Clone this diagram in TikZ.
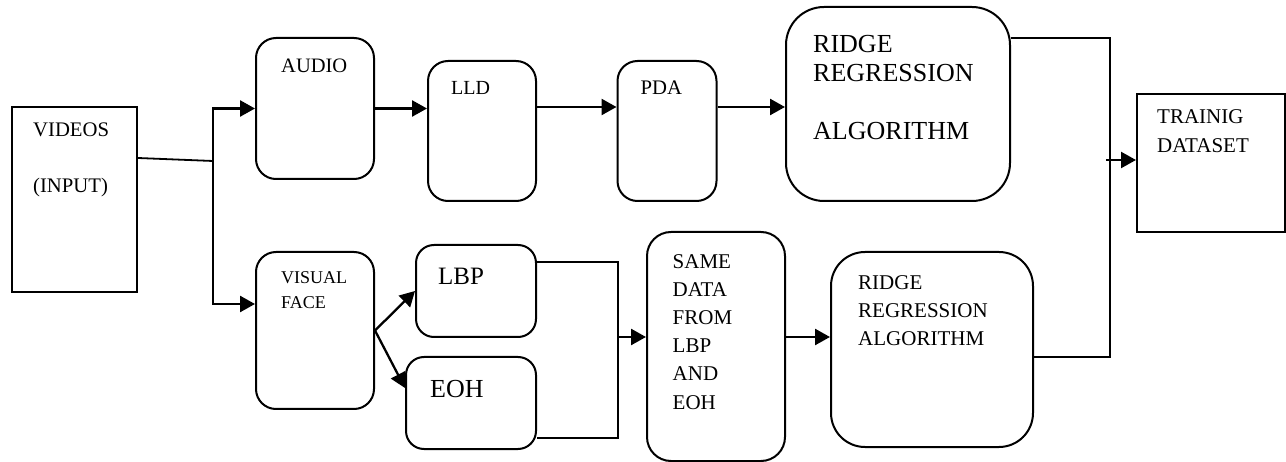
\documentclass[tikz,border=0pt]{standalone}
\usepackage{fontspec}
\setmainfont{Liberation Serif}
\usetikzlibrary{arrows.meta,positioning}
\tikzset{
    %Define standard arrow tip
    >={Triangle[length=15pt,width=16pt]},
    %Define style for boxes
    block/.style={
      rectangle,
      rounded corners=20pt,
      draw=black, line width=2pt,
      inner sep=0pt},
    plain/.style={
      rectangle,
      draw=black, line width=2pt,
      inner sep=0pt},
    %Define style for texts
    caption/.style={
      inner sep=0pt,
      align=left,
      font=\fontsize{20.5}{28}\selectfont},
    % Define arrow style
    arr/.style={
      ->,
      line width=2.5pt},
    wire/.style={
      line width=1.8pt}
}

\begin{document}
\begin{tikzpicture}[x=1pt, y=-1pt]
    \useasboundingbox (0,0) rectangle (1286,462);
    % boxes
    \node[plain, minimum width=125pt, minimum height=185pt] (videos) at (74.5,199.5) {};
    \node[block, minimum width=118pt, minimum height=141pt] (audio) at (315,108.5) {};
    \node[block, minimum width=108pt, minimum height=140pt] (lld) at (482,131) {};
    \node[block, minimum width=99pt, minimum height=140pt] (pda) at (667,131) {};
    \node[block, rounded corners=38pt, minimum width=224pt, minimum height=194pt] (ridgetop) at (898,104) {};
    \node[plain, minimum width=148pt, minimum height=138pt] (dataset) at (1211,163) {};
    \node[block, minimum width=118pt, minimum height=157pt] (visual) at (315,330.5) {};
    \node[block, rounded corners=18pt, minimum width=120pt, minimum height=92pt] (lbp) at (476,291) {};
    \node[block, rounded corners=18pt, minimum width=130pt, minimum height=92pt] (eoh) at (471,403) {};
    \node[block, rounded corners=24pt, minimum width=138pt, minimum height=229pt] (samedata) at (716,346.5) {};
    \node[block, rounded corners=34pt, minimum width=202pt, minimum height=195pt] (ridgebot) at (932,349.5) {};

    % texts
    \node[caption, font=\fontsize{20.7}{28}\selectfont, below right=17pt and 22pt of videos.north west] (videostxt) {VIDEOS\\[28pt](INPUT)};
    \node[caption, below right=22pt and 26pt of audio.north west] (audiotxt) {AUDIO};
    \node[caption, font=\fontsize{20}{28}\selectfont, below right=21pt and 24pt of lld.north west] (lldtxt) {LLD};
    \node[caption, font=\fontsize{20.7}{28}\selectfont, below right=21pt and 24pt of pda.north west] (pdatxt) {PDA};
    \node[caption, font=\fontsize{26}{29}\selectfont, below right=29pt and 28pt of ridgetop.north west] (ridgetoptxt) {RIDGE\\REGRESSION\\[29pt]ALGORITHM};
    \node[caption, font=\fontsize{21}{29}\selectfont, below right=16pt and 21pt of dataset.north west] (datasettxt) {TRAINIG\\DATASET};
    \node[caption, font=\fontsize{18}{25}\selectfont, below right=20pt and 26pt of visual.north west] (visualtxt) {VISUAL\\FACE};
    \node[caption, font=\fontsize{25}{28}\selectfont, below right=24pt and 23pt of lbp.north west] (lbptxt) {LBP};
    \node[caption, font=\fontsize{26}{28}\selectfont, below right=24pt and 25pt of eoh.north west] (eohtxt) {EOH};
    \node[caption, font=\fontsize{21}{28.2}\selectfont, below right=23pt and 26.5pt of samedata.north west] (sametxt) {SAME\\DATA\\FROM\\LBP\\AND\\EOH};
    \node[caption, font=\fontsize{21}{28}\selectfont, below right=24pt and 28pt of ridgebot.north west] (ridgebottxt) {RIDGE\\REGRESSION\\ALGORITHM};

    % connectors
    \coordinate (split) at (213,161);
    \coordinate (fuse) at (618,438);
    \coordinate (merge) at (1110,357);
    \coordinate (samein) at ([yshift=9.5pt]samedata.west);
    \coordinate (datain) at ([yshift=3pt]dataset.west);
    \draw[wire] ([yshift=-52pt]videos.north east) -- (split);
    \draw[arr] (split) |- (audio.west);
    \draw[arr] (split) |- ([yshift=26.5pt]visual.west);
    \draw[arr] (audio.east) -- (audio.east -| lld.west);
    \draw[arr] ([yshift=24pt]lld.east) -- ([yshift=24pt]pda.west);
    \draw[arr] ([yshift=24pt]pda.east) -- ([yshift=24pt]pda.east -| ridgetop.west);
    \draw[wire] ([yshift=66pt]ridgetop.east) -| (merge) -- ([yshift=-7.5pt]ridgebot.east);
    \draw[arr, line width=2.3pt] ([xshift=-4pt]merge |- datain) -- (datain);
    \draw[arr, line width=2.3pt] (visual.east) -- (lbp.west);
    \draw[arr, line width=2.3pt] (visual.east) -- ([yshift=15pt]eoh.west);
    \draw[wire] ([yshift=29pt]lbp.east) -| (fuse) -- ([yshift=-35pt]eoh.east);
    \draw[arr] (fuse |- samein) -- (samein);
    \draw[arr] (samein -| samedata.east) -- (samein -| ridgebot.west);
\end{tikzpicture}
\end{document}
